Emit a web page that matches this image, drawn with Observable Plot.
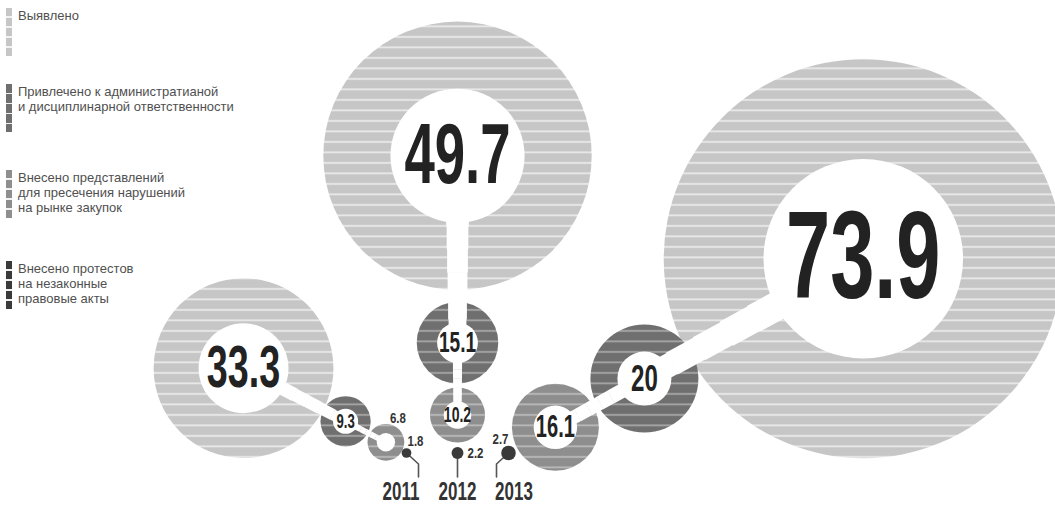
<!DOCTYPE html>
<html>
<head>
<meta charset="utf-8">
<script src="https://cdn.jsdelivr.net/npm/d3@7"></script>
<script src="https://cdn.jsdelivr.net/npm/@observablehq/plot@0.6"></script>
<style>
  html, body { margin: 0; padding: 0; background: #ffffff; }
  #wrap { position: relative; width: 1055px; height: 512px; overflow: hidden; background: #ffffff; }
  #wrap svg { position: absolute; left: 0; top: 0; }
  .legend-item { position: absolute; left: 0; }
  .legend-swatch { position: absolute; left: 6px; top: 0; width: 6px; height: 48px; }
  .legend-text { position: absolute; left: 18px; top: 0; white-space: nowrap;
    font-family: "Liberation Sans", Arial, sans-serif; font-size: 13px; line-height: 15px; color: #505050; }
</style>
</head>
<body>
<div id="wrap"></div>
<script>
// ---------------- data ----------------
const years = [2011, 2012, 2013];
const categories = [
  "Выявлено",
  "Привлечено к администратианой и дисциплинарной ответственности",
  "Внесено представлений для пресечения нарушений на рынке закупок",
  "Внесено протестов на незаконные правовые акты"
];
const legendLines = [
  ["Выявлено"],
  ["Привлечено к администратианой", "и дисциплинарной ответственности"],
  ["Внесено представлений", "для пресечения нарушений", "на рынке закупок"],
  ["Внесено протестов", "на незаконные", "правовые акты"]
];
const revealed    = [33.3, 49.7, 73.9];   // Выявлено
const punished    = [9.3, 15.1, 20];      // Привлечено к ответственности
const submissions = [6.8, 10.2, 16.1];    // Внесено представлений
const protests    = [1.8, 2.2, 2.7];      // Внесено протестов
const yearLabels  = ["2011", "2012", "2013"];

// ---------------- style / layout ----------------
const W = 1055, H = 512;
const K = 2.7;              // px of radius per unit of value
const gapsByYear = [[0, 2, 0], [4.5, 4, 12], [2.7, 4, -4]];  // px between chained circles
const catColors = ["#c6c6c6", "#6f6f6f", "#8e8e8e", "#3a3a3a"];
const stripeOpacity = [0.62, 0.38, 0.38, 0];
const anchor = {x: 457, y: 452.5, step: 51};
const chainAngles = [152.5, 90, 28.7];           // chain direction per year, degrees
const labelStep = 56.5, bendStep = 12;
const legendTops = [8, 84, 170, 261];
const numFont = '"Liberation Sans", Arial, sans-serif';
const condenseBig = 0.64, condenseSmall = 0.74, condenseYear = 0.68;

const valuesByCat = [revealed, punished, submissions, protests];
const chainOrder = [3, 2, 1, 0]; // from the small dot outward

// ---------------- layout computation ----------------
const nodes = [];
years.forEach((year, i) => {
  const a = chainAngles[i] * Math.PI / 180;
  const ux = Math.cos(a), uy = -Math.sin(a);
  let cx = anchor.x + (i - 1) * anchor.step, cy = anchor.y, prevR = null;
  chainOrder.forEach((cat, k) => {
    const v = valuesByCat[cat][i];
    const r = K * v;
    if (prevR !== null) { const d = prevR + gapsByYear[i][k - 1] + r; cx += d * ux; cy += d * uy; }
    nodes.push({year, yi: i, cat, value: v, x: cx, y: cy, step: k});
    prevR = r;
  });
});
const ringed = nodes.filter(d => d.cat !== 3);
const byCat = c => nodes.filter(d => d.cat === c);
const fmt = v => String(v);

// white tapered stems between inner circles (split into short segments)
const stems = [];
const SEG = 8;
years.forEach((year, i) => {
  const chain = ringed.filter(d => d.yi === i).sort((a, b) => a.step - b.step);
  for (let k = 0; k + 1 < chain.length; k++) {
    const a = chain[k], b = chain[k + 1];       // a smaller, b larger
    const ri = 0.5 * K * Math.min(a.value, b.value);
    const toBig = b.cat === 0;
    const w0 = (toBig ? 0.85 : 0.6) * ri, w1 = w0 * (toBig ? 1.45 : 1.15);
    for (let s = 0; s < SEG; s++) {
      const t0 = s / SEG, t1 = (s + 1.02) / SEG, tm = (s + 0.5) / SEG;
      stems.push({
        x1: a.x + (b.x - a.x) * t0, y1: a.y + (b.y - a.y) * t0,
        x2: a.x + (b.x - a.x) * Math.min(1, t1), y2: a.y + (b.y - a.y) * Math.min(1, t1),
        w: w0 + (w1 - w0) * tm
      });
    }
  }
});

// labels inside / outside
const inside = ringed.filter(d => d.value >= 8);
const outside = nodes.filter(d => d.value < 8);
const outsideOffset = new Map([
  ["2011-2", [12, -24]], ["2011-3", [9, -12]], ["2012-3", [18, 0]], ["2013-3", [-8, -14]]
]);
const off = d => outsideOffset.get(`${d.year}-${d.cat}`) || [0, -14];

// label size: cap height grows with the inner (white) radius
function fitSize(d) {
  const ri = 0.5 * K * d.value;
  const cap = 0.85 * ri + 4;
  return cap / 0.716;
}

// leader lines from the dots to the year labels
const leaders = [];
years.forEach((year, i) => {
  const dot = nodes.find(d => d.yi === i && d.cat === 3);
  const bx = dot.x - (i - 1) * bendStep;
  leaders.push({year, x: dot.x, y: dot.y});
  leaders.push({year, x: bx, y: dot.y + 11});
  leaders.push({year, x: bx, y: anchor.y + 24});
});

// ---------------- plot ----------------
const svg = Plot.plot({
  width: W, height: H, margin: 0,
  style: {background: "transparent"},
  x: {domain: [0, W], range: [0, W], axis: null},
  y: {domain: [0, H], range: [0, H], axis: null},
  r: {type: "linear", domain: [0, 100], range: [0, 100 * K]},
  marks: [
    Plot.dot(byCat(0), {x: "x", y: "y", r: "value", fill: "url(#pat-0)", stroke: "none"}),
    Plot.dot(byCat(1), {x: "x", y: "y", r: "value", fill: "url(#pat-1)", stroke: "none"}),
    Plot.dot(byCat(2), {x: "x", y: "y", r: "value", fill: "url(#pat-2)", stroke: "none"}),
    Plot.line(leaders, {x: "x", y: "y", z: "year", stroke: "#555", strokeWidth: 1.6, curve: "linear"}),
    Plot.dot(byCat(3), {x: "x", y: "y", r: "value", fill: catColors[3], stroke: "none"}),
    Plot.link(stems, {x1: "x1", y1: "y1", x2: "x2", y2: "y2", stroke: "#fff", strokeWidth: d => d.w, curve: "linear"}),
    Plot.dot(ringed, {x: "x", y: "y", r: d => d.value * 0.5, fill: "#fff", stroke: "none"}),
    Plot.text(inside, {x: "x", y: "y", text: d => fmt(d.value), fontSize: fitSize, fontWeight: "bold",
      fill: "#222", fontFamily: numFont, lineAnchor: "middle", textAnchor: "middle"}),
    Plot.text(outside, {x: d => d.x + off(d)[0], y: d => d.y + off(d)[1], text: d => fmt(d.value), fontSize: 15.5,
      fontWeight: "bold", fill: "#333", fontFamily: numFont, lineAnchor: "middle", textAnchor: "middle"}),
    Plot.text(yearLabels, {x: (d, i) => anchor.x + (i - 1) * labelStep, y: () => anchor.y + 38.5, text: d => d,
      fontSize: 25, fontWeight: "bold", fill: "#333", fontFamily: numFont, lineAnchor: "middle", textAnchor: "middle"})
  ]
});

// stripe patterns
const defs = d3.select(svg).insert("defs", ":first-child");
catColors.forEach((c, i) => {
  const p = defs.append("pattern").attr("id", `pat-${i}`).attr("patternUnits", "userSpaceOnUse")
    .attr("width", 20).attr("height", 10.5);
  p.append("rect").attr("width", 20).attr("height", 10.5).attr("fill", c);
  p.append("rect").attr("y", 4).attr("width", 20).attr("height", 1.8).attr("fill", "#fff").attr("fill-opacity", stripeOpacity[i]);
});

// condensed numerals (the reference uses a condensed face)
const outsideTexts = new Set(outside.map(d => fmt(d.value)));
const yearSet = new Set(yearLabels);
const isNum = v => v != null && /^-?[\d.]+$/.test(String(v).trim());
d3.select(svg).selectAll("text").each(function () {
  const el = d3.select(this);
  const s = el.text();
  const k = yearSet.has(s) ? condenseYear : outsideTexts.has(s) ? condenseSmall : condenseBig;
  let t = el.attr("transform") || "";
  const xa = el.attr("x"), ya = el.attr("y");
  const px = isNum(xa) ? +xa : 0, py = isNum(ya) ? +ya : 0;
  if (isNum(xa)) el.attr("x", null);
  if (isNum(ya)) el.attr("y", null);
  if (px || py) t += ` translate(${px},${py})`;
  el.attr("transform", `${t} scale(${k},1)`);
});

const wrap = document.getElementById("wrap");
wrap.appendChild(svg);

// legend
categories.forEach((c, i) => {
  const item = document.createElement("div");
  item.className = "legend-item";
  item.style.top = legendTops[i] + "px";
  const sw = document.createElement("div");
  sw.className = "legend-swatch";
  sw.style.background = `repeating-linear-gradient(to bottom, ${catColors[i]} 0px, ${catColors[i]} 8.5px, #f2f2f2 8.5px, #f2f2f2 10px)`;
  const tx = document.createElement("div");
  tx.className = "legend-text";
  tx.innerHTML = legendLines[i].join("<br>");
  tx.title = c;
  item.appendChild(sw);
  item.appendChild(tx);
  wrap.appendChild(item);
});
</script>
</body>
</html>
